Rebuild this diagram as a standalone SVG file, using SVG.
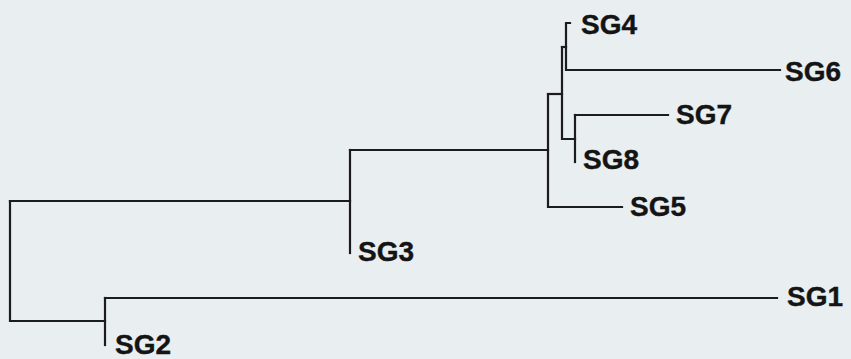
<svg xmlns="http://www.w3.org/2000/svg" width="851" height="359" viewBox="0 0 851 359">
<style>
.bg{fill:#e9eef0}
.ln{fill:none;stroke:#1c1c1c;stroke-width:2.2;stroke-linecap:square}
.lb{font-family:"Liberation Sans",Arial,sans-serif;font-weight:bold;font-size:28px;fill:#141414;stroke:#141414;stroke-width:0.4}
</style>
<rect class="bg" x="0" y="0" width="851" height="359"/>
<g id="connectors">
<path class="ln" d="M10,201 V321 H105"/>
<path class="ln" d="M10,201 H350"/>
<path class="ln" d="M105,298 V345"/>
<path class="ln" d="M105,298 H777"/>
<path class="ln" d="M350,150 V253"/>
<path class="ln" d="M350,150 H548"/>
<path class="ln" d="M548,94 V207 H622"/>
<path class="ln" d="M548,94 H562"/>
<path class="ln" d="M562,47 V139 H575"/>
<path class="ln" d="M562,47 H566"/>
<path class="ln" d="M570,23 H566 V70 H780"/>
<path class="ln" d="M575,115 V162"/>
<path class="ln" d="M575,115 H668"/>
</g>
<g id="SG1"><text class="lb" x="787" y="306">SG1</text></g>
<g id="SG2"><text class="lb" x="115" y="354">SG2</text></g>
<g id="SG3"><text class="lb" x="358" y="261">SG3</text></g>
<g id="SG4"><text class="lb" x="581" y="34">SG4</text></g>
<g id="SG6"><text class="lb" x="785" y="81">SG6</text></g>
<g id="SG7"><text class="lb" x="676" y="124">SG7</text></g>
<g id="SG8"><text class="lb" x="583" y="169">SG8</text></g>
<g id="SG5"><text class="lb" x="630" y="216">SG5</text></g>
</svg>
